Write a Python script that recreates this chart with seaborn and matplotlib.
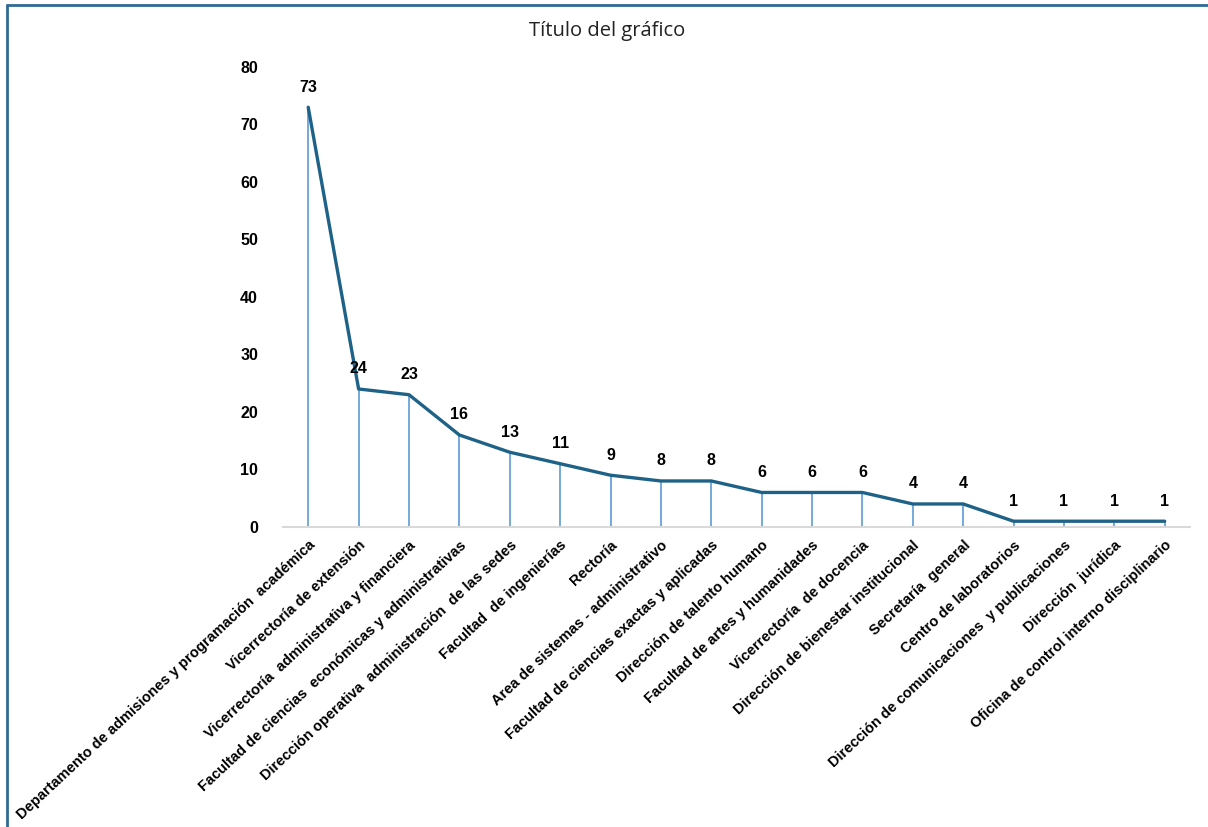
import matplotlib
matplotlib.use("Agg")
from matplotlib import pyplot as plt
from matplotlib.lines import Line2D
import seaborn as sns
import pandas as pd
import numpy as np

# categories and counts
dependencias = [
    "Departamento de admisiones y programación  académica",
    "Vicerrectoría de extensión",
    "Vicerrectoría  administrativa y financiera",
    "Facultad de ciencias  económicas y administrativas",
    "Dirección operativa  administración  de las sedes",
    "Facultad  de ingenierías",
    "Rectoría",
    "Area de sistemas - administrativo",
    "Facultad de ciencias exactas y aplicadas",
    "Dirección de talento humano",
    "Facultad de artes y humanidades",
    "Vicerrectoría  de docencia",
    "Dirección de bienestar institucional",
    "Secretaría  general",
    "Centro de laboratorios",
    "Dirección de comunicaciones  y publicaciones",
    "Dirección  jurídica",
    "Oficina de control interno disciplinario",
]
cantidades = [73, 24, 23, 16, 13, 11, 9, 8, 8, 6, 6, 6, 4, 4, 1, 1, 1, 1]
y_ticks = [0, 10, 20, 30, 40, 50, 60, 70, 80]

df = pd.DataFrame({"pos": np.arange(len(dependencias)), "dep": dependencias, "n": cantidades})

sns.set_theme(style="white")
plt.rcParams["font.family"] = ["Liberation Sans", "DejaVu Sans"]

fig = plt.figure(figsize=(12.08, 8.27), dpi=100)
ax = fig.add_axes([0.2343, 0.3628, 0.7507, 0.5562])

# drop lines
ax.vlines(df["pos"], 0, df["n"], color="#5B9BD5", linewidth=1.2, zorder=1)
sns.lineplot(data=df, x="pos", y="n", color="#1F6287", linewidth=2.4, ax=ax, zorder=2)

for x, v in zip(df["pos"], df["n"]):
    ax.annotate(str(v), (x, v), xytext=(0, 9), textcoords="offset points",
                ha="center", va="bottom", fontsize=11.5, fontweight="bold", color="black")

ax.set_xlim(-0.5, len(dependencias) - 0.5)
ax.set_ylim(0, 80)
ax.set_yticks(y_ticks)
ax.set_yticklabels([str(t) for t in y_ticks], fontsize=11.5, fontweight="bold")
ax.set_xticks(df["pos"])
ax.set_xticklabels(dependencias, rotation=43, ha="right", rotation_mode="anchor",
                   fontsize=10.5, fontweight="bold")
ax.tick_params(axis="both", length=0, colors="black")
ax.tick_params(axis="y", pad=18)
ax.tick_params(axis="x", pad=8)
ax.set_xlabel(None)
ax.set_ylabel(None)

sns.despine(ax=ax, left=True)
ax.spines["bottom"].set_color("#D9D9D9")
ax.spines["bottom"].set_linewidth(1.5)

fig.text(0.5025, 0.962, "Título del gráfico", ha="center", va="center",
         fontsize=14.5, color="#222222", family=["Open Sans", "DejaVu Sans"])

# chart frame (left and top edges only visible)
frame_c = "#2E6B94"
fig.add_artist(Line2D([0.0055, 0.0055], [0.0, 0.9935], transform=fig.transFigure, color=frame_c, linewidth=2))
fig.add_artist(Line2D([0.0055, 1.0], [0.9935, 0.9935], transform=fig.transFigure, color=frame_c, linewidth=2))

fig.savefig("out.png", dpi=100)
